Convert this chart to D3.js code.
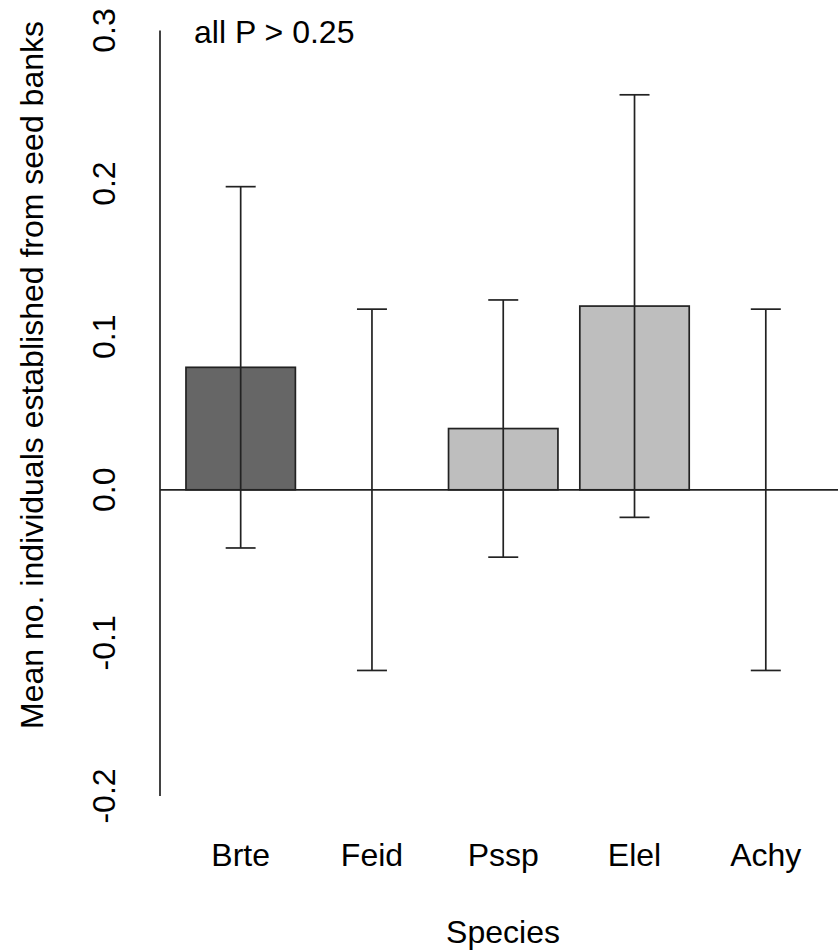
<!DOCTYPE html>
<html>
<head>
<meta charset="utf-8">
<script src="https://cdn.jsdelivr.net/npm/d3@7"></script>
<style>
  html, body { margin: 0; padding: 0; background: #fff; }
  svg text { font-family: "Liberation Sans", Arial, sans-serif; fill: #000; }
</style>
</head>
<body>
<svg id="chart" width="838" height="951"></svg>
<script>
const species = ["Brte", "Feid", "Pssp", "Elel", "Achy"];
const means = [0.08, 0, 0.04, 0.12, 0];
const errs = [0.118, 0.118, 0.084, 0.138, 0.118];
const fills = ["#666666", "#bebebe", "#bebebe", "#bebebe", "#bebebe"];
const yTicks = [-0.2, -0.1, 0.0, 0.1, 0.2, 0.3];

const svg = d3.select("#chart");
const y = d3.scaleLinear().domain([-0.2, 0.3]).range([796, 30.5]);
// bar units: width 1, space 0.2 (R barplot style)
const x = d3.scaleLinear().domain([0, 1]).range([164.1, 273.5]);
const barLeft = i => 0.2 + i * 1.2;
const lineColor = "#222";
const fs = 32;

// y axis line
svg.append("line")
  .attr("x1", 160).attr("x2", 160)
  .attr("y1", y(0.3)).attr("y2", y(-0.2))
  .attr("stroke", lineColor).attr("stroke-width", 1.7);

// y tick labels
svg.selectAll("text.ytick").data(yTicks).enter().append("text")
  .attr("class", "ytick")
  .attr("transform", d => `translate(115,${y(d)}) rotate(-90)`)
  .attr("text-anchor", "middle")
  .attr("font-size", fs)
  .text(d => d3.format(".1f")(d).replace("−", "-"));

// bars
svg.selectAll("rect.bar").data(species).enter().append("rect")
  .attr("class", "bar")
  .attr("x", (d, i) => x(barLeft(i)))
  .attr("width", (d, i) => x(barLeft(i) + 1) - x(barLeft(i)))
  .attr("y", (d, i) => Math.min(y(means[i]), y(0)))
  .attr("height", (d, i) => Math.abs(y(means[i]) - y(0)))
  .attr("fill", (d, i) => fills[i])
  .attr("stroke", (d, i) => means[i] === 0 ? "none" : lineColor)
  .attr("stroke-width", 1.7);

// zero line
svg.append("line")
  .attr("x1", 160).attr("x2", 838)
  .attr("y1", y(0)).attr("y2", y(0))
  .attr("stroke", lineColor).attr("stroke-width", 1.7);

// error bars
const eb = svg.selectAll("g.err").data(species).enter().append("g").attr("class", "err");
eb.append("line")
  .attr("x1", (d, i) => x(barLeft(i) + 0.5)).attr("x2", (d, i) => x(barLeft(i) + 0.5))
  .attr("y1", (d, i) => y(means[i] + errs[i])).attr("y2", (d, i) => y(means[i] - errs[i]))
  .attr("stroke", lineColor).attr("stroke-width", 1.7);
[1, -1].forEach(s => {
  eb.append("line")
    .attr("x1", (d, i) => x(barLeft(i) + 0.5) - 15).attr("x2", (d, i) => x(barLeft(i) + 0.5) + 15)
    .attr("y1", (d, i) => y(means[i] + s * errs[i])).attr("y2", (d, i) => y(means[i] + s * errs[i]))
    .attr("stroke", lineColor).attr("stroke-width", 1.7);
});

// x labels
svg.selectAll("text.xlab").data(species).enter().append("text")
  .attr("class", "xlab")
  .attr("x", (d, i) => x(barLeft(i) + 0.5))
  .attr("y", 866)
  .attr("text-anchor", "middle")
  .attr("font-size", fs)
  .text(d => d);

// axis titles
svg.append("text")
  .attr("x", 503).attr("y", 943)
  .attr("text-anchor", "middle")
  .attr("font-size", fs)
  .text("Species");

svg.append("text")
  .attr("transform", `translate(43,375) rotate(-90)`)
  .attr("text-anchor", "middle")
  .attr("font-size", fs)
  .text("Mean no. individuals established from seed banks");

// annotation
svg.append("text")
  .attr("x", 194).attr("y", 43)
  .attr("font-size", fs)
  .text("all P > 0.25");
</script>
</body>
</html>
